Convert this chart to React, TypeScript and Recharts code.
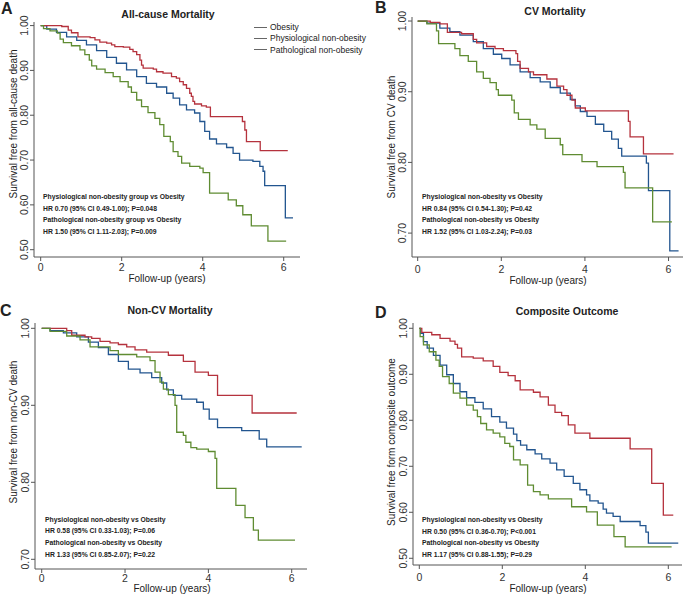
import React from 'react';
import { LineChart, Line, XAxis, YAxis } from 'recharts';

const RED = '#b5323d';
const BLUE = '#22558f';
const GREEN = '#5f8c32';
const AXIS = '#555';
const FONT = '"Liberation Sans", Arial, sans-serif';

const yearTicks = [0, 2, 4, 6];
const wideTicks = [0.5, 0.6, 0.7, 0.8, 0.9, 1.0];
const narrowTicks = [0.7, 0.8, 0.9, 1.0];

const legendLabels = ['Obesity', 'Physiological non-obesity', 'Pathological non-obesity'];

// all-cause mortality: [years, survival]
const allCauseObesity: [number, number][] = [
  [0, 1], [0.15, 0.992], [0.39, 0.985], [0.64, 0.975], [0.89, 0.967], [1.13, 0.957], [1.38, 0.944],
  [1.63, 0.929], [1.87, 0.916], [2.12, 0.901], [2.37, 0.886], [2.61, 0.871], [2.86, 0.863], [3.11, 0.849],
  [3.27, 0.838], [3.43, 0.823], [3.6, 0.812], [3.8, 0.805], [3.93, 0.786], [4.05, 0.764], [4.17, 0.747],
  [4.34, 0.736], [4.59, 0.728], [4.75, 0.715], [4.91, 0.7], [5.24, 0.697], [5.41, 0.686], [5.49, 0.675],
  [5.53, 0.643], [6.04, 0.571], [6.23, 0.571],
];
const allCausePhysio: [number, number][] = [
  [0, 1], [0.52, 0.998], [0.68, 0.99], [0.76, 0.984], [0.92, 0.975], [1.22, 0.973], [1.34, 0.968],
  [1.46, 0.963], [1.63, 0.961], [1.75, 0.957], [1.83, 0.953], [2.04, 0.952], [2.2, 0.947], [2.28, 0.942],
  [2.37, 0.935], [2.45, 0.923], [2.49, 0.912], [2.53, 0.905], [2.78, 0.903], [2.86, 0.897], [3.02, 0.894],
  [3.23, 0.886], [3.35, 0.883], [3.43, 0.875], [3.52, 0.868], [3.6, 0.86], [3.68, 0.849], [3.72, 0.842],
  [3.76, 0.831], [3.8, 0.825], [3.97, 0.821], [4.09, 0.818], [4.19, 0.797], [4.98, 0.786], [5.04, 0.767],
  [5.08, 0.741], [5.42, 0.721], [6.1, 0.721],
];
const allCausePatho: [number, number][] = [
  [0, 1], [0.07, 0.993], [0.23, 0.988], [0.41, 0.983], [0.48, 0.97], [0.56, 0.962], [0.76, 0.955],
  [0.97, 0.946], [1.09, 0.935], [1.2, 0.923], [1.26, 0.91], [1.38, 0.903], [1.59, 0.895], [1.79, 0.886],
  [1.96, 0.875], [2.16, 0.863], [2.24, 0.851], [2.37, 0.834], [2.49, 0.819], [2.65, 0.806], [2.82, 0.793],
  [2.94, 0.779], [3.04, 0.753], [3.2, 0.741], [3.27, 0.719], [3.39, 0.708], [3.48, 0.693], [3.68, 0.686],
  [3.93, 0.682], [4.01, 0.672], [4.17, 0.626], [4.63, 0.611], [4.83, 0.598], [4.99, 0.578], [5.2, 0.553],
  [5.61, 0.519], [6.06, 0.519],
];

// CV mortality
const cvObesity: [number, number][] = [
  [0, 1], [0.22, 0.997], [0.53, 0.99], [0.77, 0.985], [1.01, 0.98], [1.33, 0.971], [1.57, 0.961],
  [1.81, 0.953], [2.01, 0.947], [2.21, 0.938], [2.45, 0.928], [2.69, 0.92], [2.93, 0.914], [3.17, 0.906],
  [3.41, 0.898], [3.65, 0.889], [3.77, 0.88], [3.89, 0.872], [4.05, 0.865], [4.25, 0.854], [4.45, 0.844],
  [4.64, 0.833], [4.8, 0.82], [4.88, 0.809], [5.47, 0.799], [5.52, 0.76], [6.03, 0.675], [6.24, 0.675],
];
const cvPhysio: [number, number][] = [
  [0, 1], [0.3, 0.998], [0.53, 0.996], [0.71, 0.984], [1.05, 0.982], [1.33, 0.974], [1.41, 0.969],
  [1.65, 0.964], [1.85, 0.961], [2.05, 0.958], [2.35, 0.954], [2.39, 0.943], [2.45, 0.933], [2.65, 0.928],
  [2.77, 0.924], [3.09, 0.918], [3.33, 0.908], [3.49, 0.903], [3.57, 0.895], [3.69, 0.888], [3.77, 0.877],
  [4.01, 0.873], [5.04, 0.858], [5.08, 0.836], [5.4, 0.812], [6.12, 0.812],
];
const cvPatho: [number, number][] = [
  [0, 1], [0.22, 0.996], [0.45, 0.986], [0.5, 0.968], [0.89, 0.961], [1.01, 0.951], [1.21, 0.943],
  [1.41, 0.928], [1.57, 0.919], [1.73, 0.913], [1.88, 0.903], [1.93, 0.895], [2.25, 0.888], [2.31, 0.87],
  [2.41, 0.861], [2.69, 0.853], [2.85, 0.847], [3.05, 0.834], [3.41, 0.825], [3.47, 0.811], [3.93, 0.801],
  [4.29, 0.794], [4.92, 0.786], [4.96, 0.764], [5.62, 0.716], [6.08, 0.716],
];

// non-CV mortality
const nonCvObesity: [number, number][] = [
  [0, 1], [0.2, 0.997], [0.52, 0.994], [0.84, 0.989], [1.12, 0.982], [1.36, 0.975], [1.6, 0.966],
  [1.84, 0.957], [2.08, 0.947], [2.36, 0.942], [2.64, 0.936], [2.88, 0.929], [3.0, 0.92], [3.16, 0.913],
  [3.36, 0.908], [3.72, 0.904], [3.88, 0.895], [4.02, 0.882], [4.22, 0.871], [4.8, 0.867], [5.22, 0.856],
  [5.4, 0.846], [6.24, 0.846],
];
const nonCvPhysio: [number, number][] = [
  [0, 1], [0.6, 0.997], [0.72, 0.991], [1.04, 0.989], [1.2, 0.987], [1.4, 0.983], [1.64, 0.981],
  [1.84, 0.979], [2.04, 0.976], [2.24, 0.972], [2.52, 0.969], [3.04, 0.965], [3.4, 0.957], [3.68, 0.943],
  [4.0, 0.939], [4.22, 0.913], [5.05, 0.89], [6.12, 0.89],
];
const nonCvPatho: [number, number][] = [
  [0, 1], [0.2, 0.996], [0.6, 0.99], [0.92, 0.985], [1.16, 0.976], [1.64, 0.971], [1.84, 0.966],
  [2.28, 0.963], [2.6, 0.958], [2.72, 0.943], [2.84, 0.93], [2.92, 0.921], [3.04, 0.914], [3.2, 0.9],
  [3.24, 0.865], [3.4, 0.861], [3.46, 0.852], [3.58, 0.845], [3.72, 0.843], [4.0, 0.84], [4.16, 0.831],
  [4.2, 0.792], [4.66, 0.77], [4.88, 0.754], [5.08, 0.738], [5.2, 0.725], [6.08, 0.725],
];

// composite outcome
const compObesity: [number, number][] = [
  [0, 1], [0.03, 0.989], [0.1, 0.971], [0.19, 0.957], [0.34, 0.941], [0.5, 0.92], [0.66, 0.899],
  [0.82, 0.88], [0.98, 0.862], [1.14, 0.849], [1.34, 0.839], [1.54, 0.825], [1.74, 0.808], [1.94, 0.796],
  [2.1, 0.783], [2.27, 0.77], [2.35, 0.756], [2.44, 0.746], [2.59, 0.736], [2.79, 0.727], [2.95, 0.716],
  [3.15, 0.707], [3.31, 0.692], [3.49, 0.678], [3.71, 0.663], [3.87, 0.649], [4.03, 0.638], [4.11, 0.625],
  [4.31, 0.62], [4.43, 0.607], [4.51, 0.598], [4.67, 0.591], [4.84, 0.58], [5.32, 0.571], [5.46, 0.557],
  [5.52, 0.533], [6.24, 0.533],
];
const compPhysio: [number, number][] = [
  [0, 1], [0.06, 0.991], [0.3, 0.986], [0.5, 0.978], [0.74, 0.972], [0.86, 0.965], [0.92, 0.957],
  [1.02, 0.938], [1.3, 0.935], [1.54, 0.929], [1.78, 0.917], [1.94, 0.904], [2.14, 0.897], [2.31, 0.886],
  [2.43, 0.866], [2.75, 0.861], [2.91, 0.851], [3.11, 0.833], [3.27, 0.817], [3.43, 0.81], [3.59, 0.79],
  [3.75, 0.772], [4.11, 0.761], [5.08, 0.738], [5.6, 0.663], [5.88, 0.594], [6.12, 0.594],
];
const compPatho: [number, number][] = [
  [0, 1], [0.02, 0.982], [0.1, 0.964], [0.24, 0.949], [0.4, 0.931], [0.48, 0.917], [0.56, 0.895],
  [0.72, 0.88], [0.82, 0.859], [0.98, 0.848], [1.14, 0.833], [1.3, 0.822], [1.4, 0.808], [1.48, 0.793],
  [1.62, 0.779], [1.78, 0.772], [1.94, 0.764], [2.06, 0.75], [2.18, 0.743], [2.27, 0.714], [2.43, 0.703],
  [2.61, 0.659], [2.75, 0.645], [2.91, 0.638], [3.11, 0.629], [3.67, 0.612], [4.03, 0.601], [4.29, 0.572],
  [4.69, 0.547], [4.96, 0.525], [6.08, 0.525],
];

const toRows = (pts: [number, number][]) => pts.map(([t, v]) => ({ t, v }));

type PanelProps = {
  left: number;
  top: number;
  width: number;
  height: number;
  axisX: number;
  axisY: number;
  plotTop: number;
  plotRight: number;
  xDomain: [number, number];
  yDomain: [number, number];
  yTicks: number[];
  xLabelOffset: number;
  series: { pts: [number, number][]; color: string }[];
};

function KMPanel(p: PanelProps) {
  const margin = { top: p.plotTop - p.top, right: p.left + p.width - p.plotRight, left: 0, bottom: 0 };
  return (
    <div style={{ position: 'absolute', left: p.left, top: p.top }}>
      <LineChart width={p.width} height={p.height} margin={margin}>
        <XAxis
          type="number"
          dataKey="t"
          domain={p.xDomain}
          allowDataOverflow
          ticks={yearTicks}
          height={p.top + p.height - p.axisY}
          stroke={AXIS}
          tickSize={4}
          tickMargin={0}
          tick={(t: any) => (
            <text x={t.x} y={t.y + p.xLabelOffset - 4} textAnchor="middle" dominantBaseline="central"
              fontSize={10.5} fontFamily={FONT} fill="#333">{t.payload.value}</text>
          )}
        />
        <YAxis
          type="number"
          domain={p.yDomain}
          allowDataOverflow
          ticks={p.yTicks}
          width={p.axisX - p.left}
          stroke={AXIS}
          tickSize={4}
          tickMargin={0}
          tick={(t: any) => {
            const x = t.x - 5.5;
            return (
              <text x={x} y={t.y} transform={`rotate(-90, ${x}, ${t.y})`} textAnchor="middle"
                dominantBaseline="central" fontSize={10.5} fontFamily={FONT} fill="#333">
                {Number(t.payload.value).toFixed(2)}
              </text>
            );
          }}
        />
        {p.series.map((s, i) => (
          <Line key={i} data={toRows(s.pts)} dataKey="v" type="stepAfter" stroke={s.color}
            strokeWidth={1.3} dot={false} activeDot={false} isAnimationActive={false} />
        ))}
      </LineChart>
    </div>
  );
}

function Txt({ x, y, children, size = 10, bold = false, align = 'center' }: any) {
  const tx = align === 'center' ? '-50%' : '0';
  return (
    <div
      style={{
        position: 'absolute',
        left: x,
        top: y,
        transform: `translate(${tx}, -50%)`,
        fontFamily: FONT,
        fontSize: size,
        fontWeight: bold ? 700 : 400,
        color: '#222',
        whiteSpace: 'nowrap',
        lineHeight: 1,
      }}
    >
      {children}
    </div>
  );
}

function VTxt({ x, y, children, size = 10 }: any) {
  return (
    <div
      style={{
        position: 'absolute',
        left: x,
        top: y,
        transform: 'translate(-50%, -50%) rotate(-90deg)',
        fontFamily: FONT,
        fontSize: size,
        color: '#222',
        whiteSpace: 'nowrap',
        lineHeight: 1,
      }}
    >
      {children}
    </div>
  );
}

function Notes({ x, y, lines }: { x: number; y: number; lines: string[] }) {
  return (
    <>
      {lines.map((l, i) => (
        <Txt key={i} x={x} y={y + i * 11.7} size={6.8} bold align="left">{l}</Txt>
      ))}
    </>
  );
}

export default function App() {
  return (
    <div style={{ position: 'absolute', left: 0, top: 0, width: 685, height: 594, background: '#fff', overflow: 'hidden' }}>
      <KMPanel left={0} top={0} width={342} height={297} axisX={34} axisY={257} plotTop={22} plotRight={300}
        xDomain={[-0.165, 6.402]} yDomain={[0.4837, 1.008]} yTicks={wideTicks} xLabelOffset={10}
        series={[{ pts: allCauseObesity, color: BLUE }, { pts: allCausePhysio, color: RED }, { pts: allCausePatho, color: GREEN }]} />
      <KMPanel left={342} top={0} width={343} height={297} axisX={412} axisY={257} plotTop={17} plotRight={683}
        xDomain={[-0.136, 6.346]} yDomain={[0.6662, 1.0057]} yTicks={narrowTicks} xLabelOffset={12}
        series={[{ pts: cvObesity, color: BLUE }, { pts: cvPhysio, color: RED }, { pts: cvPatho, color: GREEN }]} />
      <KMPanel left={0} top={297} width={342} height={297} axisX={35} axisY={569} plotTop={323} plotRight={307}
        xDomain={[-0.161, 6.367]} yDomain={[0.6874, 1.0069]} yTicks={narrowTicks} xLabelOffset={9}
        series={[{ pts: nonCvObesity, color: BLUE }, { pts: nonCvPhysio, color: RED }, { pts: nonCvPatho, color: GREEN }]} />
      <KMPanel left={342} top={297} width={343} height={297} axisX={413} axisY={565} plotTop={323} plotRight={682}
        xDomain={[-0.152, 6.33]} yDomain={[0.4854, 1.0115]} yTicks={wideTicks} xLabelOffset={12}
        series={[{ pts: compObesity, color: BLUE }, { pts: compPhysio, color: RED }, { pts: compPatho, color: GREEN }]} />

      {/* panel letters */}
      <Txt x={1} y={9} size={16} bold align="left">A</Txt>
      <Txt x={375} y={8} size={16} bold align="left">B</Txt>
      <Txt x={0} y={311} size={16} bold align="left">C</Txt>
      <Txt x={375} y={313} size={16} bold align="left">D</Txt>

      {/* titles */}
      <Txt x={168} y={14} size={10.5} bold>All-cause Mortality</Txt>
      <Txt x={555} y={11} size={10.5} bold>CV Mortality</Txt>
      <Txt x={170} y={310} size={10.5} bold>Non-CV Mortality</Txt>
      <Txt x={567} y={311} size={10.5} bold>Composite Outcome</Txt>

      {/* axis titles */}
      <Txt x={167} y={279} size={10}>Follow-up (years)</Txt>
      <Txt x={548} y={281} size={10}>Follow-up (years)</Txt>
      <Txt x={172} y={589} size={10}>Follow-up (years)</Txt>
      <Txt x={548} y={589} size={10}>Follow-up (years)</Txt>
      <VTxt x={14} y={124}>Survival free from all-cause death</VTxt>
      <VTxt x={392} y={137}>Survival free from CV death</VTxt>
      <VTxt x={14} y={432}>Survival free from non-CV death</VTxt>
      <VTxt x={392} y={442}>Survival free form composite outcome</VTxt>

      {/* legend */}
      {legendLabels.map((l, i) => (
        <React.Fragment key={l}>
          <div style={{ position: 'absolute', left: 254, top: 26.5 + i * 11.3, width: 13, height: 1, background: '#666' }} />
          <Txt x={270} y={27 + i * 11.3} size={8.5} align="left">{l}</Txt>
        </React.Fragment>
      ))}

      {/* hazard ratio notes */}
      <Notes x={43} y={197} lines={[
        'Physiological non-obesity group vs Obesity',
        'HR 0.70 (95% CI 0.49-1.00); P=0.048',
        'Pathological non-obesity group vs Obesity',
        'HR 1.50 (95% CI 1.11-2.03); P=0.009',
      ]} />
      <Notes x={422} y={197} lines={[
        'Physiological non-obesity vs Obesity',
        'HR 0.84 (95% CI 0.54-1.30); P=0.42',
        'Pathological non-obesity vs Obesity',
        'HR 1.52 (95% CI 1.03-2.24); P=0.03',
      ]} />
      <Notes x={45} y={519.5} lines={[
        'Physiological non-obesity vs Obesity',
        'HR 0.58 (95% CI 0.33-1.03); P=0.06',
        'Pathological non-obesity vs Obesity',
        'HR 1.33 (95% CI 0.85-2.07); P=0.22',
      ]} />
      <Notes x={422} y={520} lines={[
        'Physiological non-obesity vs Obesity',
        'HR 0.50 (95% CI 0.36-0.70); P<0.001',
        'Pathological non-obesity vs Obesity',
        'HR 1.17 (95% CI 0.88-1.55); P=0.29',
      ]} />
    </div>
  );
}
